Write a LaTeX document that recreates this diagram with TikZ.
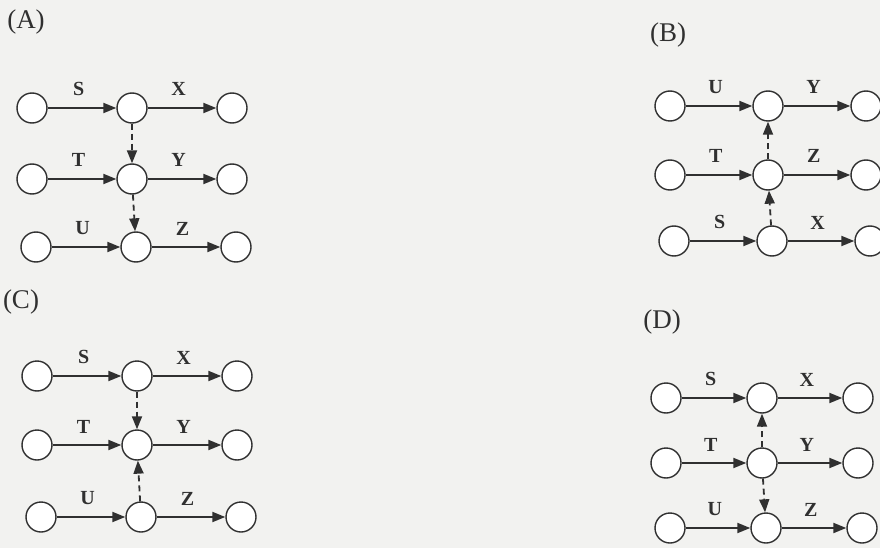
\documentclass[tikz,border=0pt]{standalone}
\usepackage{fontspec}
\setmainfont{Liberation Serif}
\usetikzlibrary{arrows.meta}
\definecolor{InkGray}{RGB}{48,48,48}
\definecolor{PaperGray}{RGB}{242,242,240}
\tikzset{
  event/.style={circle, draw=InkGray, line width=1.4pt, minimum size=30pt,
    inner sep=0pt, fill=white},
  actarrow/.style={-{Triangle[length=13pt,width=10pt]}, line width=2pt, draw=InkGray},
  dummyarrow/.style={actarrow, line width=1.8pt, dash pattern=on 6pt off 4pt},
  actlabel/.style={above=11pt, pos=0.45, font=\fontsize{20}{20}\selectfont\bfseries,
    text=InkGray, inner sep=0pt},
  panel/.style={font=\fontsize{27}{27}\selectfont, text=InkGray, inner sep=0pt}
}

\begin{document}
\begin{tikzpicture}[x=1pt, y=-1pt]
  \fill[PaperGray] (0,0) rectangle (880,548);
  \useasboundingbox (0,0) rectangle (880,548);

  % (A)
  \node[panel] (labA) at (26,22) {(A)};
  \node[event] (a11) at (32,108) {};
  \node[event] (a12) at (132,108) {};
  \node[event] (a13) at (232,108) {};
  \node[event] (a21) at (32,179) {};
  \node[event] (a22) at (132,179) {};
  \node[event] (a23) at (232,179) {};
  \node[event] (a31) at (36,247) {};
  \node[event] (a32) at (136,247) {};
  \node[event] (a33) at (236,247) {};
  \draw[actarrow] (a11) -- node[actlabel]{S} (a12);
  \draw[actarrow] (a12) -- node[actlabel]{X} (a13);
  \draw[actarrow] (a21) -- node[actlabel]{T} (a22);
  \draw[actarrow] (a22) -- node[actlabel]{Y} (a23);
  \draw[actarrow] (a31) -- node[actlabel]{U} (a32);
  \draw[actarrow] (a32) -- node[actlabel]{Z} (a33);
  \draw[dummyarrow] (a12) -- (a22);
  \draw[dummyarrow] (a22) -- (a32);

  % (B)
  \node[panel] (labB) at (668,35) {(B)};
  \node[event] (b11) at (670,106) {};
  \node[event] (b12) at (768,106) {};
  \node[event] (b13) at (866,106) {};
  \node[event] (b21) at (670,175) {};
  \node[event] (b22) at (768,175) {};
  \node[event] (b23) at (866,175) {};
  \node[event] (b31) at (674,241) {};
  \node[event] (b32) at (772,241) {};
  \node[event] (b33) at (870,241) {};
  \draw[actarrow] (b11) -- node[actlabel]{U} (b12);
  \draw[actarrow] (b12) -- node[actlabel]{Y} (b13);
  \draw[actarrow] (b21) -- node[actlabel]{T} (b22);
  \draw[actarrow] (b22) -- node[actlabel]{Z} (b23);
  \draw[actarrow] (b31) -- node[actlabel]{S} (b32);
  \draw[actarrow] (b32) -- node[actlabel]{X} (b33);
  \draw[dummyarrow] (b22) -- (b12);
  \draw[dummyarrow] (b32) -- (b22);

  % (C)
  \node[panel] (labC) at (21,302) {(C)};
  \node[event] (c11) at (37,376) {};
  \node[event] (c12) at (137,376) {};
  \node[event] (c13) at (237,376) {};
  \node[event] (c21) at (37,445) {};
  \node[event] (c22) at (137,445) {};
  \node[event] (c23) at (237,445) {};
  \node[event] (c31) at (41,517) {};
  \node[event] (c32) at (141,517) {};
  \node[event] (c33) at (241,517) {};
  \draw[actarrow] (c11) -- node[actlabel]{S} (c12);
  \draw[actarrow] (c12) -- node[actlabel]{X} (c13);
  \draw[actarrow] (c21) -- node[actlabel]{T} (c22);
  \draw[actarrow] (c22) -- node[actlabel]{Y} (c23);
  \draw[actarrow] (c31) -- node[actlabel]{U} (c32);
  \draw[actarrow] (c32) -- node[actlabel]{Z} (c33);
  \draw[dummyarrow] (c12) -- (c22);
  \draw[dummyarrow] (c32) -- (c22);

  % (D)
  \node[panel] (labD) at (662,322) {(D)};
  \node[event] (d11) at (666,398) {};
  \node[event] (d12) at (762,398) {};
  \node[event] (d13) at (858,398) {};
  \node[event] (d21) at (666,463) {};
  \node[event] (d22) at (762,463) {};
  \node[event] (d23) at (858,463) {};
  \node[event] (d31) at (670,528) {};
  \node[event] (d32) at (766,528) {};
  \node[event] (d33) at (862,528) {};
  \draw[actarrow] (d11) -- node[actlabel]{S} (d12);
  \draw[actarrow] (d12) -- node[actlabel]{X} (d13);
  \draw[actarrow] (d21) -- node[actlabel]{T} (d22);
  \draw[actarrow] (d22) -- node[actlabel]{Y} (d23);
  \draw[actarrow] (d31) -- node[actlabel]{U} (d32);
  \draw[actarrow] (d32) -- node[actlabel]{Z} (d33);
  \draw[dummyarrow] (d22) -- (d12);
  \draw[dummyarrow] (d22) -- (d32);
\end{tikzpicture}
\end{document}
